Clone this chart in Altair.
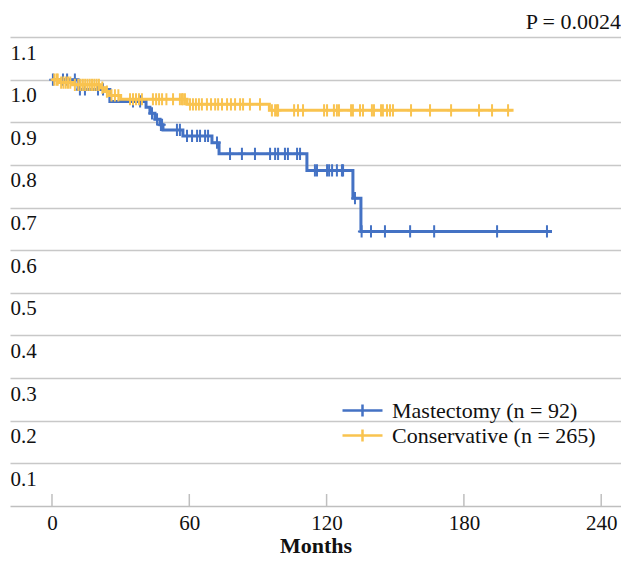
import altair as alt
import pandas as pd

groups = ["Mastectomy (n = 92)", "Conservative (n = 265)"]
colors = ["#4472C4", "#F9C34F"]

# Kaplan-Meier steps: Mastectomy
mast_step_t = [0, 11.4, 25.3, 41.1, 42.8, 45.0, 47.2, 48.5, 57.2, 69.9, 73.0, 111.4, 131.5, 135.0, 218.5]
mast_step_s = [1.0, 0.977, 0.949, 0.935, 0.921, 0.907, 0.894, 0.882, 0.868, 0.852, 0.826, 0.787, 0.722, 0.644, 0.644]
mast_cens = [0.4, 4.8, 6.6, 10.0, 12.2, 14.4, 20.1, 22.3, 35.4, 38.5, 43.7, 45.9, 47.6, 48.1,
             54.6, 55.9, 59.0, 61.2, 63.4, 64.7, 66.9, 68.2, 72.1, 77.8, 83.0, 88.7, 95.3, 97.5,
             98.8, 101.8, 103.1, 107.1, 108.4, 114.9, 115.8, 120.2, 121.1, 122.4, 124.5, 126.7,
             127.2, 132.4, 135.3, 139.4, 145.5, 156.5, 167.0, 194.5, 216.3]

# Kaplan-Meier steps: Conservative
cons_step_t = [0, 3.0, 9.0, 21.0, 23.0, 25.0, 30.0, 59.0, 95.0, 201.7]
cons_step_s = [1.0, 0.993, 0.988, 0.981, 0.972, 0.963, 0.954, 0.942, 0.928, 0.928]
cons_cens = [1.0, 2.0, 2.5, 4.0, 5.0, 6.0, 7.0, 8.0, 10.0, 11.5, 12.5, 13.5, 14.5, 15.5, 16.5,
             17.5, 18.5, 19.5, 20.5, 22.0, 24.0, 26.0, 27.5, 29.0, 34.1, 35.4, 36.7, 38.0, 39.3,
             44.1, 45.5, 46.8, 48.1, 50.0, 52.9, 55.9, 56.8, 57.2, 58.1, 60.3, 61.6, 62.9, 64.2,
             65.5, 67.7, 69.5, 71.3, 72.6, 74.3, 76.5, 78.2, 80.0, 82.2, 83.5, 86.5, 90.9, 96.1,
             97.5, 98.3, 98.8, 105.8, 107.5, 109.7, 118.9, 120.2, 123.2, 124.5, 125.4, 130.7,
             131.5, 134.6, 135.9, 139.8, 140.7, 143.8, 144.6, 146.4, 147.7, 149.0, 156.9, 165.2,
             174.4, 186.6, 192.3, 199.3]

x_ticks = [0, 60, 120, 180, 240]
y_ticks = [0.1, 0.2, 0.3, 0.4, 0.5, 0.6, 0.7, 0.8, 0.9, 1.0, 1.1]
p_text = "P = 0.0024"
x_title = "Months"

FONT = "Liberation Serif"
W, H = 611, 469


def km_at(ts, ss, t):
    s = ss[0]
    for ti, si in zip(ts, ss):
        if ti <= t:
            s = si
    return s


def steps_df(ts, ss, g):
    return pd.DataFrame({"t": ts, "s": ss, "group": g})


def cens_df(ts, ss, cens, g):
    return pd.DataFrame({"t": cens, "s": [km_at(ts, ss, c) for c in cens], "group": g})


xscale = alt.Scale(domain=[-18.35, 248.65], nice=False, zero=False)
yscale = alt.Scale(domain=[0, 1.1], nice=False)
cscale = alt.Scale(domain=groups, range=colors)

xenc = alt.X("t:Q", scale=xscale,
             axis=alt.Axis(values=x_ticks, grid=False, ticks=False, domainColor="#bfbfbf",
                           domainWidth=1.5, labelFont=FONT, labelFontSize=21, labelColor="#111",
                           labelPadding=6, labelFlush=False, title=x_title, titleFont=FONT,
                           titleFontSize=22, titleFontWeight="bold", titleColor="#111",
                           titlePadding=2, format="d"))
yenc = alt.Y("s:Q", scale=yscale,
             axis=alt.Axis(values=y_ticks, grid=True, gridColor="#c8c8c8", gridWidth=1.5,
                           domain=False, ticks=False, labelAlign="left", labelPadding=0,
                           labelBaseline="middle", labelOffset=16, labelFont=FONT,
                           labelFontSize=21, labelColor="#111", format=".1f", title=None))
cenc = alt.Color("group:N", scale=cscale,
                 legend=alt.Legend(orient="none", legendX=341, legendY=362, title=None,
                                   labelFont=FONT, labelFontSize=22, labelColor="#111",
                                   labelLimit=400, symbolType="M-2,0H2M0,-0.6V0.6",
                                   symbolSize=400, symbolStrokeWidth=2.5, labelOffset=18,
                                   rowPadding=2, padding=0))

cross = "M0,-1V1M-0.6,0H0.6"

layers = []
tick_df = pd.DataFrame({"t": x_ticks})
layers.append(alt.Chart(tick_df).mark_rule(color="#bfbfbf", strokeWidth=1.5).encode(
    x=alt.X("t:Q", scale=xscale), y=alt.value(H - 12), y2=alt.value(H)))

for ts, ss, cens, g in [(mast_step_t, mast_step_s, mast_cens, groups[0]),
                        (cons_step_t, cons_step_s, cons_cens, groups[1])]:
    layers.append(alt.Chart(steps_df(ts, ss, g)).mark_line(
        interpolate="step-after", strokeWidth=3).encode(x=xenc, y=yenc, color=cenc))
    layers.append(alt.Chart(cens_df(ts, ss, cens, g)).mark_point(
        shape=cross, size=150, filled=False, strokeWidth=2, opacity=1).encode(
        x=xenc, y=yenc, color=cenc))

chart = alt.layer(*layers).properties(
    width=W, height=H,
    title=alt.TitleParams(p_text, anchor="end", font=FONT, fontSize=22, fontWeight="normal",
                          color="#111", offset=3),
    padding={"left": 2, "top": 3, "right": 0, "bottom": 0},
).configure_view(stroke=None)

chart.save("out.html", embed_options={"renderer": "svg", "actions": False})
